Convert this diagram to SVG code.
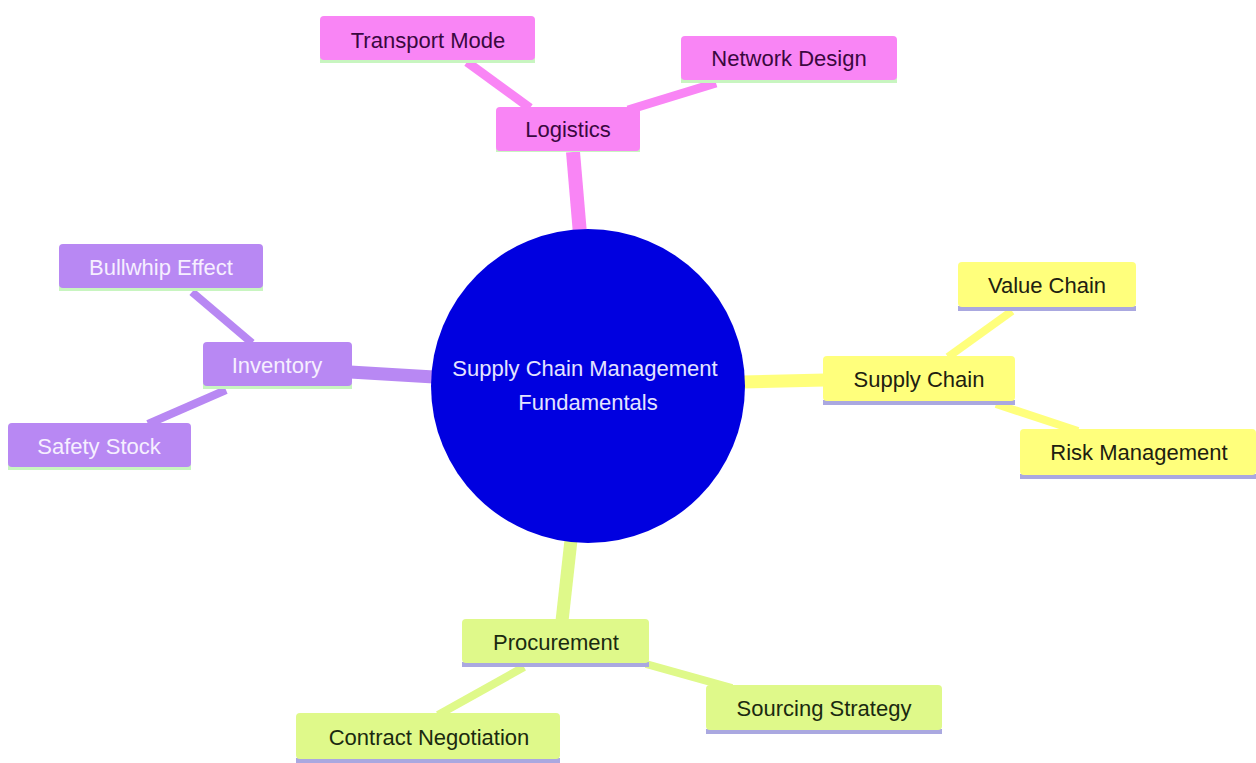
<svg xmlns="http://www.w3.org/2000/svg" width="1256" height="763" viewBox="0 0 1256 763">
<style>
text{font-family:"Liberation Sans",Arial,sans-serif;font-size:22px;text-anchor:middle;dominant-baseline:central}
.pk{fill:#f985f5}.pu{fill:#b888f3}.ye{fill:#ffff7c}.li{fill:#dff98a}
.lg{fill:#c8f5c0}.lv{fill:#aaa8e0}
.tpk{fill:#3a0840}.tpu{fill:#f6efff}.tye{fill:#202010}.tli{fill:#1a2a10}
.e{fill:none;stroke-linecap:butt}
</style>
<rect width="1256" height="763" fill="#ffffff"/>
<g id="connectors">
<line class="e" x1="573" y1="152" x2="580" y2="234" stroke="#f985f5" stroke-width="14"/>
<line class="e" x1="467" y1="62" x2="530" y2="108" stroke="#f985f5" stroke-width="9"/>
<line class="e" x1="628" y1="110" x2="716" y2="83" stroke="#f985f5" stroke-width="9"/>
<line class="e" x1="350" y1="372" x2="434" y2="377" stroke="#b888f3" stroke-width="13"/>
<line class="e" x1="192" y1="292" x2="252" y2="343" stroke="#b888f3" stroke-width="8"/>
<line class="e" x1="148" y1="424" x2="226" y2="390" stroke="#b888f3" stroke-width="8"/>
<line class="e" x1="742" y1="382" x2="825" y2="380" stroke="#ffff7c" stroke-width="13"/>
<line class="e" x1="1012" y1="311" x2="948" y2="357" stroke="#ffff7c" stroke-width="8"/>
<line class="e" x1="996" y1="404" x2="1078" y2="431" stroke="#ffff7c" stroke-width="8"/>
<line class="e" x1="571" y1="540" x2="562" y2="621" stroke="#dff98a" stroke-width="13"/>
<line class="e" x1="524" y1="667" x2="438" y2="715" stroke="#dff98a" stroke-width="8"/>
<line class="e" x1="646" y1="664" x2="732" y2="688" stroke="#dff98a" stroke-width="8"/>
</g>
<g id="root">
<circle cx="588" cy="386" r="157" fill="#0000e0"/>
<text x="585" y="368" fill="#e4e4ff">Supply Chain Management</text>
<text x="588" y="402" fill="#e4e4ff">Fundamentals</text>
</g>
<g id="logistics">
<rect class="lg" x="496" y="147" width="144" height="5"/>
<rect class="pk" x="496" y="107" width="144" height="44" rx="4"/>
<text class="tpk" x="568" y="129">Logistics</text>
</g>
<g id="transport-mode">
<rect class="lg" x="320" y="57" width="215" height="6"/>
<rect class="pk" x="320" y="16" width="215" height="44" rx="4"/>
<text class="tpk" x="428" y="40">Transport Mode</text>
</g>
<g id="network-design">
<rect class="lg" x="681" y="77" width="216" height="6"/>
<rect class="pk" x="681" y="36" width="216" height="44" rx="4"/>
<text class="tpk" x="789" y="58">Network Design</text>
</g>
<g id="inventory">
<rect class="lg" x="203" y="383" width="149" height="6"/>
<rect class="pu" x="203" y="342" width="149" height="44" rx="4"/>
<text class="tpu" x="277" y="365">Inventory</text>
</g>
<g id="bullwhip-effect">
<rect class="lg" x="59" y="285" width="204" height="6"/>
<rect class="pu" x="59" y="244" width="204" height="44" rx="4"/>
<text class="tpu" x="161" y="267">Bullwhip Effect</text>
</g>
<g id="safety-stock">
<rect class="lg" x="8" y="464" width="183" height="6"/>
<rect class="pu" x="8" y="423" width="183" height="44" rx="4"/>
<text class="tpu" x="99" y="446">Safety Stock</text>
</g>
<g id="supply-chain">
<rect class="lv" x="823" y="400" width="192" height="5"/>
<rect class="ye" x="823" y="356" width="192" height="45" rx="4"/>
<text class="tye" x="919" y="379">Supply Chain</text>
</g>
<g id="value-chain">
<rect class="lv" x="958" y="306" width="178" height="5"/>
<rect class="ye" x="958" y="262" width="178" height="45" rx="4"/>
<text class="tye" x="1047" y="285">Value Chain</text>
</g>
<g id="risk-management">
<rect class="lv" x="1020" y="474" width="236" height="5"/>
<rect class="ye" x="1020" y="429" width="236" height="46" rx="4"/>
<text class="tye" x="1139" y="452">Risk Management</text>
</g>
<g id="procurement">
<rect class="lv" x="462" y="662" width="187" height="5"/>
<rect class="li" x="462" y="619" width="187" height="44" rx="4"/>
<text class="tli" x="556" y="642">Procurement</text>
</g>
<g id="sourcing-strategy">
<rect class="lv" x="706" y="729" width="236" height="5"/>
<rect class="li" x="706" y="685" width="236" height="45" rx="4"/>
<text class="tli" x="824" y="708">Sourcing Strategy</text>
</g>
<g id="contract-negotiation">
<rect class="lv" x="296" y="758" width="264" height="5"/>
<rect class="li" x="296" y="713" width="264" height="46" rx="4"/>
<text class="tli" x="429" y="737">Contract Negotiation</text>
</g>
</svg>
